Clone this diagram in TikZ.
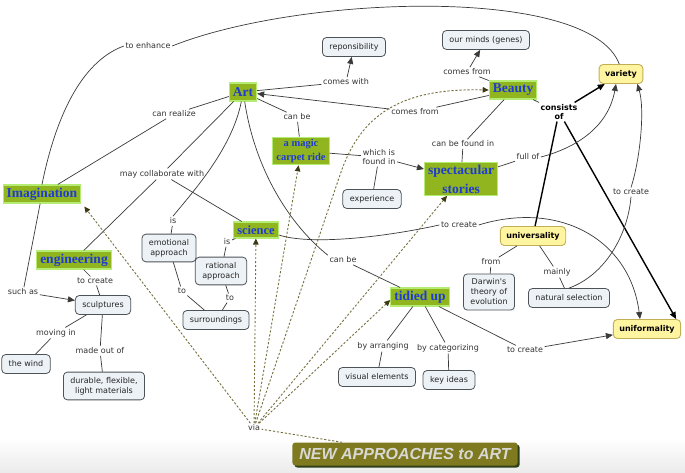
\documentclass[tikz,border=0pt]{standalone}
\usepackage{fontspec}
\newfontfamily\lf{DejaVu Sans}
\newfontfamily\cf{Liberation Serif}
\newfontfamily\tf{Liberation Sans}
\usetikzlibrary{arrows.meta,calc,shadows}
\definecolor{cgreen}{HTML}{91B51E}
\definecolor{cborder}{HTML}{B4EC74}
\definecolor{cblue}{HTML}{1E3CCF}
\definecolor{yfill}{HTML}{FFF4A0}
\definecolor{yline}{HTML}{C2AF55}
\definecolor{gfill}{HTML}{EDF2F6}
\definecolor{gline}{HTML}{4E5358}
\definecolor{lcol}{HTML}{3A3A3A}
\definecolor{dcol}{HTML}{76703F}
\definecolor{dhead}{HTML}{3C3A14}
\definecolor{tfill}{HTML}{7F7A1F}
\definecolor{tshadow}{HTML}{2E3F1A}
\definecolor{ttext}{HTML}{D8D8D4}
\begin{document}
\begin{tikzpicture}[x=1pt,y=-1pt,
  concept/.style={fill=cgreen,draw=cborder,line width=1.1pt,text=cblue,
    font=\cf\bfseries\fontsize{13.5}{19}\selectfont,inner xsep=3.5pt,inner ysep=2pt,
    minimum height=18pt,align=center},
  smallconcept/.style={concept,font=\cf\bfseries\fontsize{10.5}{14}\selectfont},
  gnode/.style={fill=gfill,draw=gline,line width=0.8pt,rounded corners=4pt,
    font=\lf\fontsize{8}{10}\selectfont,text=black!85,inner xsep=7pt,inner ysep=5pt,
    minimum height=19pt,align=center},
  ynode/.style={fill=yfill,draw=yline,line width=0.9pt,rounded corners=4pt,
    font=\lf\bfseries\fontsize{8}{10}\selectfont,text=black,inner xsep=6pt,
    minimum height=19pt},
  lbl/.style={font=\lf\fontsize{8}{9.5}\selectfont,text=black!80,inner sep=1.5pt,align=center},
  conn/.style={draw=lcol,line width=0.7pt},
  thickconn/.style={draw=black,line width=1.4pt},
  arrowed/.style={-{Triangle[length=7pt,width=6pt]}},
  dsh/.style={draw=dcol,line width=0.9pt,dash pattern=on 2.2pt off 1.8pt},
  darr/.style={-{Triangle[length=6pt,width=5.5pt,fill=dhead,color=dhead]}},
  ttl/.style={fill=tfill,rounded corners=3pt,text=ttext,
    font=\tf\bfseries\itshape\fontsize{16}{18}\selectfont,inner xsep=7pt,
    minimum height=23pt,drop shadow={shadow xshift=2pt,shadow yshift=-2pt,fill=tshadow,opacity=1}}
]
\useasboundingbox (0,0) rectangle (685,473);
\fill[white] (0,0) rectangle (685,473);
\shade[top color=white,bottom color=black!8] (0,438) rectangle (685,473);

% concepts
\node[concept] (art) at (243,92) {Art};
\node[concept] (beauty) at (513,90) {Beauty};
\node[smallconcept] (magic) at (301,151) {a magic\\carpet ride};
\node[concept] (spect) at (461,179) {spectacular\\stories};
\node[concept] (imag) at (42,194) {Imagination};
\node[concept] (eng) at (74,260) {engineering};
\node[concept,font=\cf\bfseries\fontsize{12.5}{14}\selectfont,minimum height=16pt] (sci) at (256,230) {science};
\node[concept] (tidy) at (420,297) {tidied up};

% yellow
\node[ynode] (variety) at (621,74) {variety};
\node[ynode] (univ) at (533,236) {universality};
\node[ynode] (unif) at (647,329) {uniformality};

% gray
\node[gnode] (resp) at (354,47) {reponsibility};
\node[gnode] (minds) at (486,40) {our minds (genes)};
\node[gnode] (exp) at (372,199) {experience};
\node[gnode] (emo) at (169,248) {emotional\\approach};
\node[gnode] (rat) at (221,271) {rational\\approach};
\node[gnode] (surr) at (216,320) {surroundings};
\node[gnode] (sculp) at (103,305) {sculptures};
\node[gnode] (wind) at (26,364) {the wind};
\node[gnode] (dur) at (104,386) {durable, flexible,\\light materials};
\node[gnode] (darwin) at (489,292) {Darwin's\\theory of\\evolution};
\node[gnode] (nsel) at (569,298) {natural selection};
\node[gnode] (vis) at (377,377) {visual elements};
\node[gnode] (key) at (449,380) {key ideas};

% title
\node[ttl] (title) at (405,454) {NEW APPROACHES to ART};
\coordinate (tin) at ($(title.north west)+(50,0)$);

% labels
\node[lbl] (l_enh) at (148,46) {to enhance};
\node[lbl] (l_cw) at (346,82) {comes with};
\node[lbl] (l_cf1) at (467,72) {comes from};
\node[lbl] (l_cf2) at (415,112) {comes from};
\node[lbl] (l_cb1) at (297,117) {can be};
\node[lbl] (l_cr) at (174,114) {can realize};
\node[lbl] (l_mc) at (162,174) {may collaborate with};
\node[lbl] (l_wf) at (379,157) {which is\\found in};
\node[lbl] (l_cbf) at (463,144) {can be found in};
\node[lbl,font=\lf\bfseries\fontsize{8}{9.5}\selectfont,text=black] (l_co) at (559,112) {consists\\of};
\node[lbl] (l_fo) at (528,157) {full of};
\node[lbl] (l_tc1) at (631,192) {to create};
\node[lbl] (l_tc2) at (459,225) {to create};
\node[lbl] (l_is1) at (173,221) {is};
\node[lbl] (l_is2) at (227,242) {is};
\node[lbl] (l_to1) at (182,291) {to};
\node[lbl] (l_to2) at (230,298) {to};
\node[lbl] (l_cb2) at (343,260) {can be};
\node[lbl] (l_from) at (491,262) {from};
\node[lbl] (l_mainly) at (557,272) {mainly};
\node[lbl] (l_tc3) at (95,281) {to create};
\node[lbl] (l_sa) at (23,292) {such as};
\node[lbl] (l_mi) at (56,333) {moving in};
\node[lbl] (l_mo) at (100,351) {made out of};
\node[lbl] (l_ba) at (383,346) {by arranging};
\node[lbl] (l_bc) at (448,348) {by categorizing};
\node[lbl] (l_tc4) at (525,350) {to create};
\node[lbl] (l_via) at (254,428) {via};

% connectors
\draw[conn] (imag.north) .. controls (55,120) and (80,62) .. (l_enh.west);
\draw[conn] (l_enh.east) .. controls (300,-5) and (590,-15) .. (variety.100);

\draw[conn] (art) -- (l_cw);
\draw[conn,arrowed] (l_cw) -- (resp);
\draw[conn] (beauty) -- (l_cf1);
\draw[conn,arrowed] (l_cf1) -- (minds);
\draw[conn] (beauty) -- (l_cf2);
\draw[conn,arrowed] (l_cf2) -- (art);
\draw[conn] (art) -- (l_cb1);
\draw[conn] (l_cb1) -- (magic);
\draw[conn] (art) -- (l_cr);
\draw[conn] (l_cr) -- (imag);
\draw[conn] (art) -- (l_mc);
\draw[conn] (l_mc) -- (eng);
\draw[conn] (l_mc) -- (sci);
\draw[conn] (art.-100) .. controls (232,150) and (190,195) .. (l_is1.north);
\draw[conn] (l_is1) -- (emo);
\draw[conn] (art.-80) .. controls (255,170) and (290,225) .. (l_cb2.north west);
\draw[conn] (l_cb2) -- (tidy);
\draw[conn] (magic) -- (l_wf);
\draw[conn,arrowed] (l_wf) -- (spect);
\draw[conn] (l_wf) -- (exp);
\draw[conn] (beauty) -- (l_cbf);
\draw[conn] (l_cbf) -- (spect);
\draw[conn] (beauty) -- (l_co);
\draw[thickconn,arrowed] (l_co) -- (variety);
\draw[thickconn] (l_co) -- (univ);
\draw[thickconn,arrowed] (l_co) -- ($(unif.north east)+(-5,0)$);
\draw[conn] (spect) -- (l_fo);
\draw[conn,arrowed] (l_fo.east) .. controls (575,148) and (608,128) .. ($(variety.south)+(-5,0)$);
\draw[conn] (nsel.north) .. controls (605,275) and (628,235) .. (l_tc1.south);
\draw[conn,arrowed] (l_tc1.north) .. controls (640,160) and (645,110) .. ($(variety.south east)+(-6,0)$);
\draw[conn] (univ) -- (l_from);
\draw[conn] (l_from) -- (darwin);
\draw[conn] (univ) -- (l_mainly);
\draw[conn] (l_mainly) -- (nsel);
\draw[conn] ($(sci.east)+(0,5)$) .. controls (310,245) and (380,238) .. (l_tc2.west);
\draw[conn,arrowed] (l_tc2.east) .. controls (560,200) and (630,240) .. ($(unif.north)+(-7,0)$);
\draw[conn] (tidy) -- (l_tc4);
\draw[conn,arrowed] (l_tc4) -- (unif);
\draw[conn] (tidy) -- (l_ba);
\draw[conn] (l_ba) -- (vis);
\draw[conn] (tidy) -- (l_bc);
\draw[conn] (l_bc) -- (key);
\draw[conn] (eng) -- (l_tc3);
\draw[conn] (l_tc3) -- (sculp);
\draw[conn] (imag) -- (l_sa);
\draw[conn,arrowed] (l_sa) -- (sculp);
\draw[conn] (sculp) -- (l_mi);
\draw[conn] (l_mi) -- (wind);
\draw[conn] (sculp) -- (l_mo);
\draw[conn] (l_mo) -- (dur);
\draw[conn] (emo) -- (l_to1);
\draw[conn] (l_to1) -- (surr);
\draw[conn] (rat) -- (l_to2);
\draw[conn] (l_to2) -- (surr);
\draw[conn] (sci) -- (l_is2);
\draw[conn] (l_is2) -- (rat);

% dashed "via"
\draw[dsh,darr] (l_via) -- ($(imag.south east)+(3,3)$);
\draw[dsh,darr] (l_via) -- (sci);
\draw[dsh,darr] (l_via) -- (magic);
\draw[dsh,darr] (l_via) -- (340,175) .. controls (360,115) and (400,88) .. (beauty.west);
\draw[dsh,darr] (l_via) -- (spect);
\draw[dsh,darr] (l_via) -- ($(tidy.west)+(0,3)$);
\draw[dsh] (tin) -- (l_via);
\end{tikzpicture}
\end{document}
